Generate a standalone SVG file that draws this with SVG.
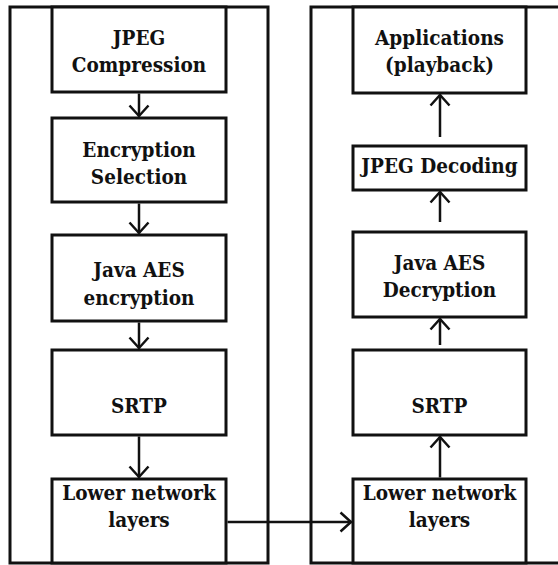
<svg xmlns="http://www.w3.org/2000/svg" width="558" height="565" viewBox="0 0 558 565">
<style>
.panel{fill:none;stroke:#111;stroke-width:3}
.box{fill:#fff;stroke:#111;stroke-width:3}
.t{font-family:"DejaVu Serif Condensed","DejaVu Serif",serif;font-stretch:condensed;font-weight:bold;font-size:20.5px;fill:#111;text-anchor:middle}
.c{stroke:#111;stroke-width:2.5;fill:none}
</style>
<defs>
<marker id="ah" viewBox="0 0 14 22" refX="13" refY="11" markerWidth="14" markerHeight="22" markerUnits="userSpaceOnUse" orient="auto">
<path d="M2,1.5 L12.5,11 L2,20.5" fill="none" stroke="#111" stroke-width="2.5"/>
</marker>
</defs>
<rect width="558" height="565" fill="#fff"/>
<g id="panel-left"><rect class="panel" x="10" y="7" width="258" height="556"/></g>
<g id="panel-right"><path class="panel" d="M562,7 H311 V563 H562"/></g>

<g id="jpeg-compression"><rect class="box" x="52" y="7" width="174" height="85"/>
<text class="t" x="139" y="45">JPEG</text><text class="t" x="139" y="72">Compression</text></g>
<g id="encryption-selection"><rect class="box" x="52" y="118" width="174" height="84"/>
<text class="t" x="139" y="157">Encryption</text><text class="t" x="139" y="184">Selection</text></g>
<g id="java-aes-encryption"><rect class="box" x="52" y="235" width="174" height="86"/>
<text class="t" x="139" y="277">Java AES</text><text class="t" x="139" y="305">encryption</text></g>
<g id="srtp-left"><rect class="box" x="52" y="350" width="174" height="85"/>
<text class="t" x="139" y="413">SRTP</text></g>
<g id="lower-left"><rect class="box" x="52" y="479" width="174" height="84"/>
<text class="t" x="139" y="500">Lower network</text><text class="t" x="139" y="527">layers</text></g>

<g id="applications"><rect class="box" x="353" y="7" width="173" height="86"/>
<text class="t" x="439.5" y="45">Applications</text><text class="t" x="439.5" y="72">(playback)</text></g>
<g id="jpeg-decoding"><rect class="box" x="353" y="146" width="173" height="44"/>
<text class="t" x="439.5" y="173">JPEG Decoding</text></g>
<g id="java-aes-decryption"><rect class="box" x="353" y="232" width="173" height="85"/>
<text class="t" x="439.5" y="270">Java AES</text><text class="t" x="439.5" y="297">Decryption</text></g>
<g id="srtp-right"><rect class="box" x="353" y="350" width="173" height="85"/>
<text class="t" x="439.5" y="413">SRTP</text></g>
<g id="lower-right"><rect class="box" x="353" y="479" width="173" height="84"/>
<text class="t" x="439.5" y="500">Lower network</text><text class="t" x="439.5" y="527">layers</text></g>

<g id="connectors">
<line class="c" x1="139" y1="93.5" x2="139" y2="116.5" marker-end="url(#ah)"/>
<line class="c" x1="139" y1="203.5" x2="139" y2="233.5" marker-end="url(#ah)"/>
<line class="c" x1="139" y1="322.5" x2="139" y2="348.5" marker-end="url(#ah)"/>
<line class="c" x1="139" y1="436.5" x2="139" y2="477.5" marker-end="url(#ah)"/>
<line class="c" x1="227.5" y1="522" x2="351.5" y2="522" marker-end="url(#ah)"/>
<line class="c" x1="440" y1="477.5" x2="440" y2="436.5" marker-end="url(#ah)"/>
<line class="c" x1="440" y1="345" x2="440" y2="318.5" marker-end="url(#ah)"/>
<line class="c" x1="440" y1="222" x2="440" y2="191.5" marker-end="url(#ah)"/>
<line class="c" x1="440" y1="137" x2="440" y2="94.5" marker-end="url(#ah)"/>
</g>
</svg>
